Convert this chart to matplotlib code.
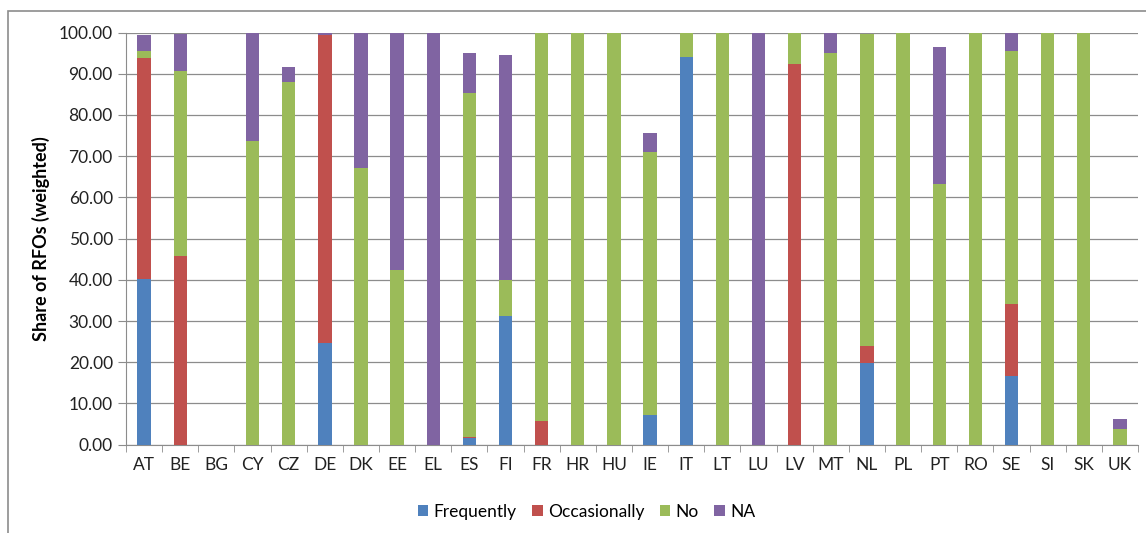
import matplotlib
matplotlib.use("Agg")
import matplotlib.pyplot as plt
import numpy as np
from matplotlib.patches import Rectangle
from matplotlib.ticker import FixedLocator, FuncFormatter

plt.rcParams['font.family'] = ['Lato', 'DejaVu Sans']

countries = ['AT', 'BE', 'BG', 'CY', 'CZ', 'DE', 'DK', 'EE', 'EL', 'ES', 'FI', 'FR', 'HR', 'HU',
             'IE', 'IT', 'LT', 'LU', 'LV', 'MT', 'NL', 'PL', 'PT', 'RO', 'SE', 'SI', 'SK', 'UK']
frequently = [40.1, 0, 0, 0, 0, 24.6, 0, 0, 0, 1.5, 31.1, 0, 0, 0,
              7.2, 94.0, 0, 0, 0, 0, 19.8, 0, 0, 0, 16.7, 0, 0, 0]
occasionally = [53.7, 45.8, 0, 0, 0, 74.9, 0, 0, 0, 0.4, 0, 5.8, 0, 0,
                0, 0, 0, 0, 92.3, 0, 4.2, 0, 0, 0, 17.5, 0, 0, 0]
no = [1.8, 44.9, 0, 73.7, 87.9, 0, 67.2, 42.4, 0, 83.4, 8.9, 94.2, 100, 100,
      63.9, 6.0, 100, 0, 7.7, 95.1, 75.6, 100, 63.3, 100, 61.4, 100, 100, 3.7]
na = [3.9, 8.9, 0, 26.3, 3.8, 0.5, 32.8, 57.6, 100, 9.8, 54.6, 0, 0, 0,
      4.6, 0, 0, 100, 0, 4.9, 0, 0, 33.2, 0, 4.4, 0, 0, 2.5]

series = [('Frequently', frequently, '#4F81BD'),
          ('Occasionally', occasionally, '#C0504D'),
          ('No', no, '#9BBB59'),
          ('NA', na, '#8064A2')]

fig = plt.figure(figsize=(11.46, 5.33), dpi=100)
ax = fig.add_axes([0.110, 0.1657, 0.883, 0.7733])

x = np.arange(len(countries))
bottom = np.zeros(len(countries))
for name, vals, color in series:
    vals = np.array(vals)
    ax.bar(x, vals, width=0.37, bottom=bottom, color=color, label=name, zorder=3)
    bottom += vals

ax.set_xlim(-0.5, len(countries) - 0.5)
ax.set_ylim(0, 100)
ax.set_yticks(np.arange(0, 101, 10))
ax.yaxis.set_major_formatter(FuncFormatter(lambda v, p: f'{v:.2f}'))
ax.grid(axis='y', color='#8c8c8c', linewidth=0.9, zorder=0)

ax.set_xticks(x)
ax.set_xticklabels(countries)
ax.xaxis.set_minor_locator(FixedLocator(np.arange(-0.5, len(countries), 1)))
ax.tick_params(axis='x', which='major', length=0, labelsize=12.5, colors='#222222', pad=9)
ax.tick_params(axis='x', which='minor', length=5, color='#8c8c8c', direction='out')
ax.tick_params(axis='y', length=6, color='#8c8c8c', labelsize=12.5, labelcolor='#222222')

for s in ['top', 'right']:
    ax.spines[s].set_visible(False)
ax.spines['left'].set_color('#8c8c8c')
ax.spines['bottom'].set_color('#8c8c8c')

ax.set_ylabel('Share of RFOs (weighted)', fontsize=13, fontweight='bold', labelpad=6)

ax.legend(loc='upper center', bbox_to_anchor=(0.455, -0.105), ncol=4, frameon=False,
          fontsize=12.5, handlelength=0.6, handleheight=0.6, handletextpad=0.3, columnspacing=0.9)

fig.patches.append(Rectangle((8 / 1146, -0.1), 1.2, 1 - 11 / 533 + 0.1, transform=fig.transFigure,
                             fill=False, edgecolor='#8c8c8c', linewidth=1.2))

fig.savefig('out.png', dpi=100)
